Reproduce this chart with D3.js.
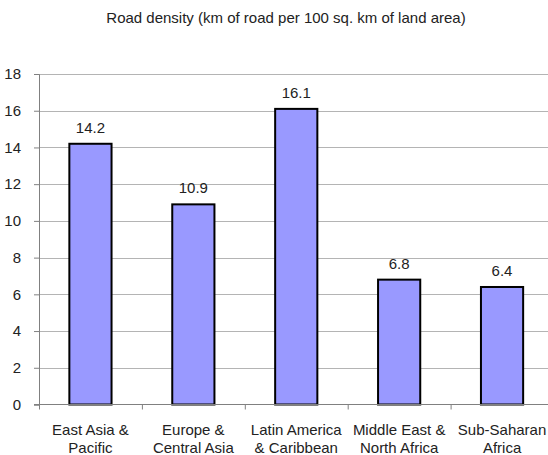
<!DOCTYPE html>
<html>
<head>
<meta charset="utf-8">
<script src="https://cdn.jsdelivr.net/npm/d3@7"></script>
<style>
  body { margin: 0; background: #fff; }
  svg text { font-family: "Liberation Sans", Arial, sans-serif; fill: #222; }
</style>
</head>
<body>
<div id="chart"></div>
<script>
// data
const regions = ['East Asia & Pacific', 'Europe & Central Asia', 'Latin America & Caribbean',
                 'Middle East & North Africa', 'Sub-Saharan Africa'];
const labelLines = [['East Asia &', 'Pacific'], ['Europe &', 'Central Asia'], ['Latin America', '& Caribbean'],
                    ['Middle East &', 'North Africa'], ['Sub-Saharan', 'Africa']];
const density = [14.2, 10.9, 16.1, 6.8, 6.4];
const yTicks = [0, 2, 4, 6, 8, 10, 12, 14, 16, 18];

const width = 548, height = 455;
const plot = {left: 39, top: 74, bottom: 404.5, right: 553.5};
const fontSize = '15px';

const svg = d3.select('#chart')
  .append('svg')
    .attr('width', width)
    .attr('height', height);

svg.append('rect')
  .attr('width', width).attr('height', height)
  .attr('fill', '#fff');

const x = d3.scaleBand()
  .domain(regions)
  .range([plot.left, plot.right])
  .paddingInner(0.59)
  .paddingOuter(0.295);

const band = d3.scaleBand().domain(regions).range([plot.left, plot.right]);

const y = d3.scaleLinear()
  .domain([0, 18])
  .range([plot.bottom, plot.top]);

// title
svg.append('text')
  .attr('x', 286)
  .attr('y', 23)
  .attr('text-anchor', 'middle')
  .attr('font-size', fontSize)
  .text('Road density (km of road per 100 sq. km of land area)');

// gridlines
svg.append('g')
  .selectAll('line')
  .data(yTicks.filter(d => d > 0))
  .join('line')
    .attr('x1', plot.left).attr('x2', width)
    .attr('y1', d => Math.round(y(d)) + 0.5)
    .attr('y2', d => Math.round(y(d)) + 0.5)
    .attr('stroke', '#b4b4b4');

// y axis
const yAxis = svg.append('g')
  .attr('transform', `translate(${plot.left},0)`)
  .call(d3.axisLeft(y).tickValues(yTicks).tickSize(5).tickPadding(13).tickFormat(d3.format('d')));
yAxis.select('.domain').attr('stroke', '#808080');
yAxis.selectAll('.tick line').attr('stroke', '#808080');
yAxis.selectAll('.tick text')
  .attr('font-size', fontSize)
  .attr('font-family', '"Liberation Sans", Arial, sans-serif')
  .attr('fill', '#222');

// bars
svg.append('g')
  .selectAll('rect')
  .data(regions)
  .join('rect')
    .attr('x', d => x(d))
    .attr('y', (d, i) => y(density[i]))
    .attr('width', x.bandwidth())
    .attr('height', (d, i) => y(0) - y(density[i]))
    .attr('fill', '#9999ff')
    .attr('stroke', '#000')
    .attr('stroke-width', 2);

// x axis (ticks between categories)
const xAxisG = svg.append('g');
xAxisG.append('line')
  .attr('x1', plot.left - 5).attr('x2', width)
  .attr('y1', plot.bottom).attr('y2', plot.bottom)
  .attr('stroke', '#808080');
xAxisG.selectAll('line.tick')
  .data(regions)
  .join('line')
    .attr('class', 'tick')
    .attr('x1', d => band(d) + 0.5).attr('x2', d => band(d) + 0.5)
    .attr('y1', plot.bottom).attr('y2', plot.bottom + 5)
    .attr('stroke', '#808080');

// category labels
svg.append('g')
  .selectAll('text')
  .data(regions)
  .join('text')
    .attr('x', d => band(d) + band.bandwidth() / 2)
    .attr('y', 435)
    .attr('text-anchor', 'middle')
    .attr('font-size', fontSize)
    .selectAll('tspan')
    .data((d, i) => labelLines[i])
    .join('tspan')
      .attr('x', function() { return this.parentNode.getAttribute('x'); })
      .attr('dy', (d, i) => i === 0 ? 0 : 18)
      .text(d => d);

// value labels
svg.append('g')
  .selectAll('text')
  .data(regions)
  .join('text')
    .attr('x', d => x(d) + x.bandwidth() / 2)
    .attr('y', (d, i) => y(density[i]) - 11)
    .attr('text-anchor', 'middle')
    .attr('font-size', fontSize)
    .text((d, i) => density[i].toFixed(1));
</script>
</body>
</html>
